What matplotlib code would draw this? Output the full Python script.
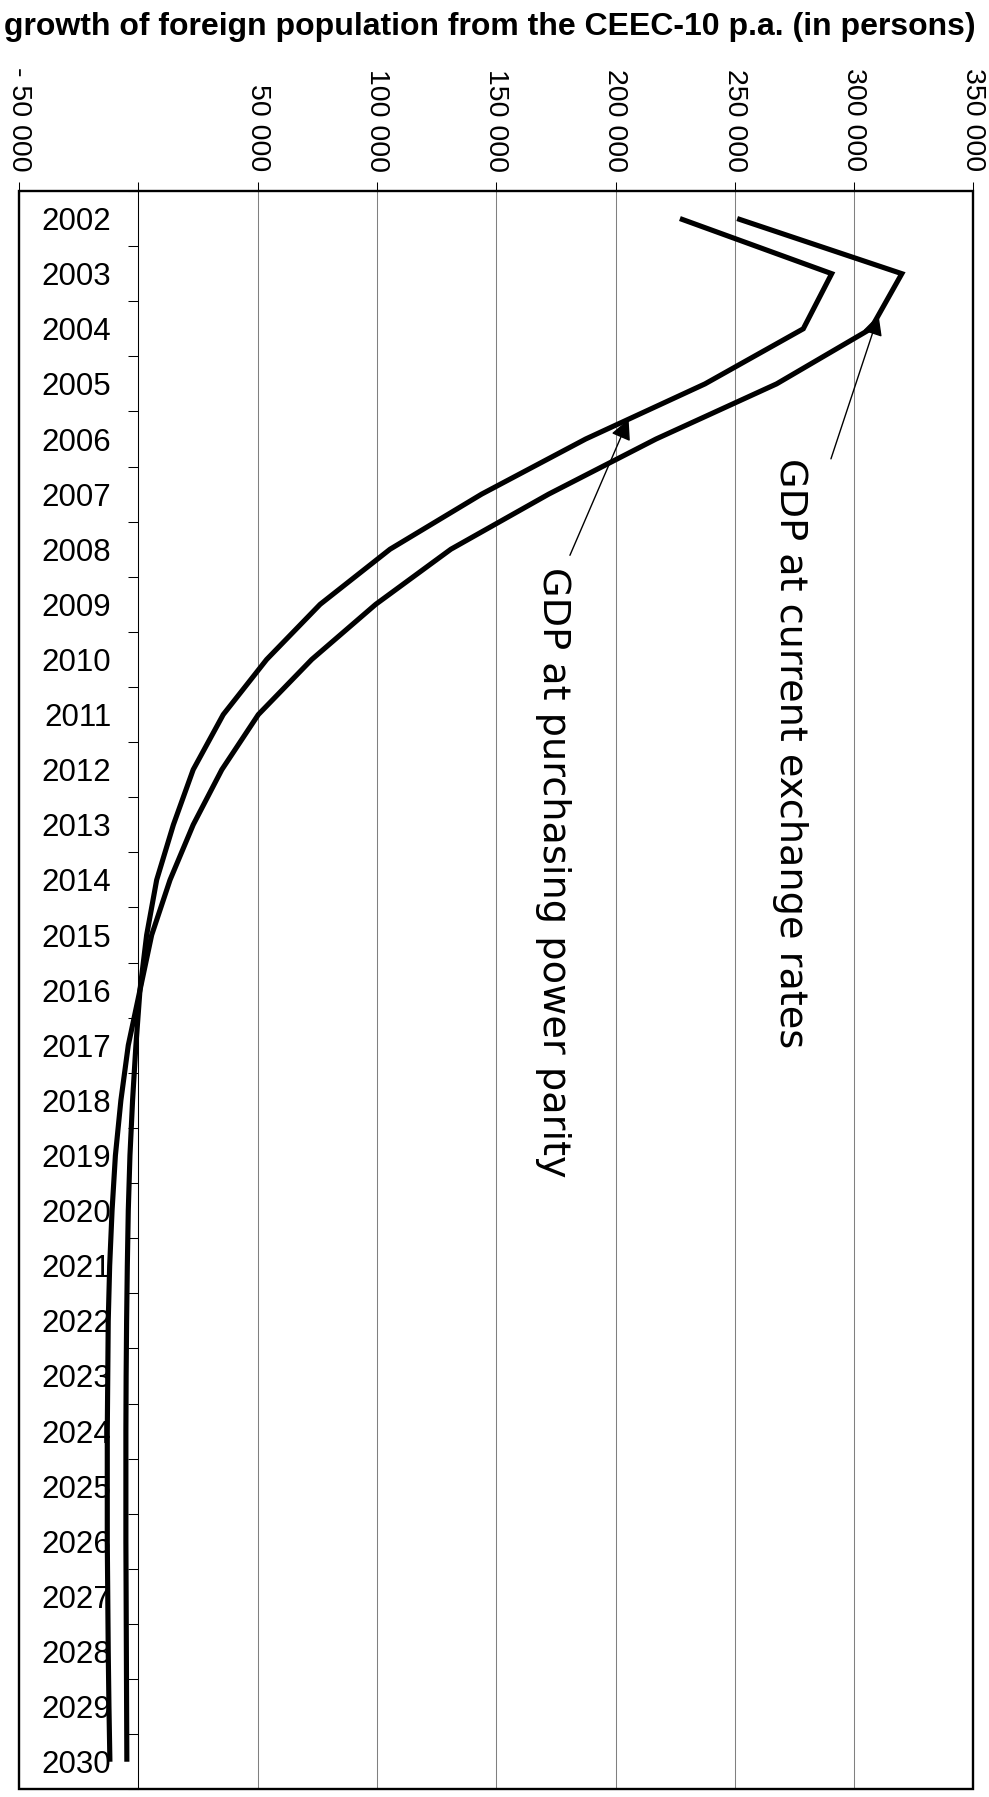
import numpy as np
import matplotlib
matplotlib.use('Agg')
import matplotlib.pyplot as plt
from matplotlib.patches import Rectangle
from matplotlib.ticker import FuncFormatter, MultipleLocator

# yearly growth of foreign population from the CEEC-10 (persons)
years = [str(y) for y in range(2002, 2031)]
gdp_exchange = [251000, 320000, 307000, 267500, 217000, 172000, 131000, 99500,
                72700, 50300, 35000, 23000, 13300, 5600, 700, -4200, -7300,
                -9600, -11000, -12000, -12600, -12800, -13000, -13000, -13000,
                -12800, -12600, -12300, -11900]
gdp_ppp = [227000, 290600, 278700, 237500, 187500, 143900, 105500, 76200,
           53800, 35600, 23000, 14700, 7700, 3500, 700, -1000, -2400, -3500,
           -4200, -4600, -4900, -5100, -5200, -5200, -5200, -5100, -5000,
           -4900, -4800]

x_min, x_max, x_step = -50000, 350000, 50000

plt.rcParams['font.family'] = ['Liberation Sans', 'DejaVu Sans']

fig = plt.figure(figsize=(9.89, 17.97), dpi=100)
ax = fig.add_axes([19 / 989, 7.7 / 1797, 954.4 / 989, 1598.3 / 1797])

idx = np.arange(len(years))
ax.plot(gdp_exchange, idx, color='black', lw=3.7, zorder=3,
        solid_joinstyle='miter', solid_capstyle='butt')
ax.plot(gdp_ppp, idx, color='black', lw=3.7, zorder=3,
        solid_joinstyle='miter', solid_capstyle='butt')

ax.set_xlim(x_min, x_max)
ax.set_ylim(len(years) - 0.5, -0.5)

# value axis on top
ax.xaxis.tick_top()
ax.xaxis.set_major_locator(MultipleLocator(x_step))


def fmt(v, pos):
    if v == 0:
        return ''
    s = f'{abs(int(round(v))):,}'.replace(',', ' ')
    return ('- ' if v < 0 else '') + s


ax.xaxis.set_major_formatter(FuncFormatter(fmt))
ax.tick_params(axis='x', which='major', direction='out', length=6.5, width=0.75,
               labelsize=20.5, pad=7.5, labelrotation=-90, color='black')
ax.grid(axis='x', color='#808080', lw=0.75)

# category axis crosses at zero
for s in ['top', 'right', 'bottom']:
    ax.spines[s].set_visible(False)
ax.spines['left'].set_position(('data', 0))
ax.spines['left'].set_linewidth(0.75)
ax.set_yticks(np.arange(len(years) + 1) - 0.5)
ax.set_yticklabels([])
ax.set_yticks(idx, labels=years, minor=True)
ax.tick_params(axis='y', which='major', direction='out', length=7.2, width=0.75)
ax.tick_params(axis='y', which='minor', length=0, pad=19.5, labelsize=22.5)

ax.add_patch(Rectangle((0, 0), 1, 1, transform=ax.transAxes, fill=False,
                       lw=1.7, ec='black', clip_on=False, zorder=5))

# labels with leader arrows
arrow = dict(arrowstyle='-|>,head_length=0.5,head_width=0.25', lw=1,
             color='black', mutation_scale=25, shrinkA=0, shrinkB=0)

tip_y = 1.75
ax.annotate('', xy=(np.interp(tip_y, idx, gdp_exchange), tip_y),
            xytext=(290300, 4.36), arrowprops=arrow, zorder=4)
ax.text(273000, 4.35, 'GDP at current exchange rates', rotation=-90,
        ha='center', va='top', fontsize=27.5, family='DejaVu Sans')

tip_y = 3.64
ax.annotate('', xy=(np.interp(tip_y, idx, gdp_ppp), tip_y),
            xytext=(180900, 6.11), arrowprops=arrow, zorder=4)
ax.text(173800, 6.32, 'GDP at purchasing power parity', rotation=-90,
        ha='center', va='top', fontsize=27.5, family='DejaVu Sans')

fig.text(0.4955, 1 - 27 / 1797,
         'growth of foreign population from the CEEC-10 p.a. (in persons)',
         ha='center', va='center', fontsize=23, fontweight='bold')

fig.savefig('out.png', dpi=100)
